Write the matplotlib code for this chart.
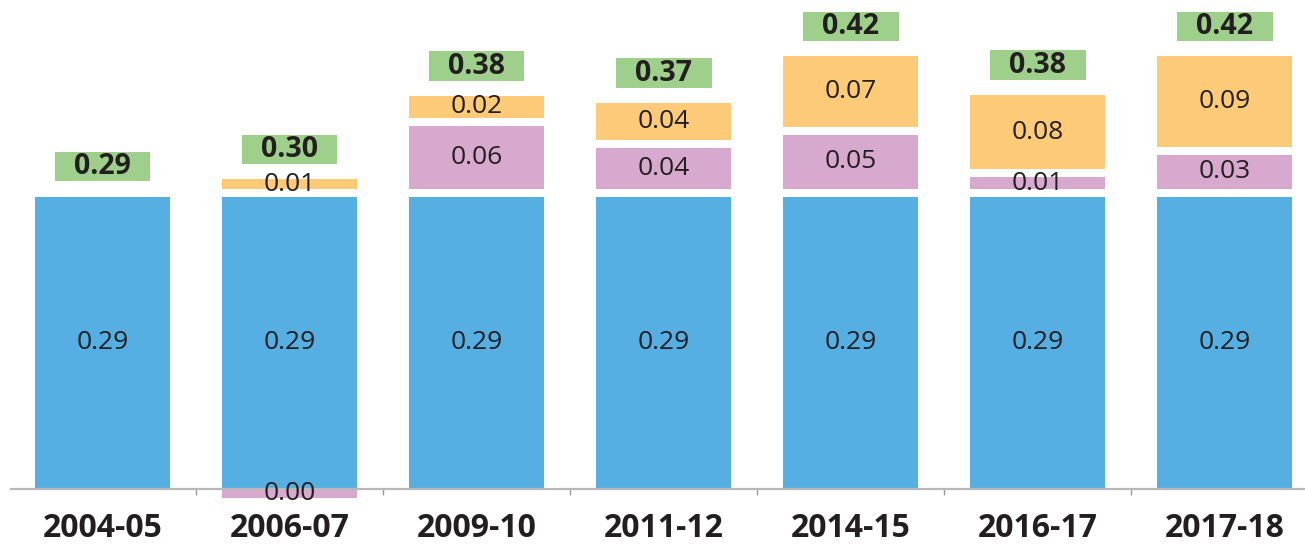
import matplotlib.pyplot as plt
import numpy as np

plt.rcParams['font.family'] = ['Open Sans', 'DejaVu Sans']

years = ['2004-05', '2006-07', '2009-10', '2011-12', '2014-15', '2016-17', '2017-18']
base = [0.29, 0.29, 0.29, 0.29, 0.29, 0.29, 0.29]
pink = [0.0, -0.009, 0.062, 0.040, 0.053, 0.011, 0.033]
orange = [0.0, 0.009, 0.022, 0.037, 0.070, 0.074, 0.090]

base_labels = ['0.29', '0.29', '0.29', '0.29', '0.29', '0.29', '0.29']
pink_labels = ['', '0.00', '0.06', '0.04', '0.05', '0.01', '0.03']
orange_labels = ['', '0.01', '0.02', '0.04', '0.07', '0.08', '0.09']
total_labels = ['0.29', '0.30', '0.38', '0.37', '0.42', '0.38', '0.42']

BLUE = '#55afe2'
PINK = '#d8a9ce'
ORANGE = '#fdca78'
GREEN = '#9fd08b'
TEXT = '#231f20'

GAP = 0.008       # white gap between stacked pieces
BOX_OFF = 0.015   # space between stack top and total box
BOX_H = 0.029
BAR_W = 0.72

fig = plt.figure(figsize=(13.05, 5.46), dpi=100)
ax = fig.add_axes([0, 0, 1, 1])

x = np.arange(len(years))

for i in range(len(years)):
    # blue base
    ax.bar(x[i], base[i], width=BAR_W, color=BLUE, zorder=1)
    ax.text(x[i], base[i] / 2, base_labels[i], ha='center', va='center',
            fontsize=19, color=TEXT, zorder=3)
    top = base[i]

    # pink piece (can go below zero)
    if pink[i] < 0:
        ax.bar(x[i], pink[i], width=BAR_W, color=PINK, zorder=1)
        ax.text(x[i], pink[i] / 2, pink_labels[i], ha='center', va='center',
                fontsize=19, color=TEXT, zorder=3)
    elif pink[i] > 0:
        bottom = top + GAP
        ax.bar(x[i], pink[i], bottom=bottom, width=BAR_W, color=PINK, zorder=1)
        ax.text(x[i], bottom + pink[i] / 2, pink_labels[i], ha='center', va='center',
                fontsize=19, color=TEXT, zorder=3)
        top = bottom + pink[i]

    # orange piece
    if orange[i] > 0:
        bottom = top + GAP
        ax.bar(x[i], orange[i], bottom=bottom, width=BAR_W, color=ORANGE, zorder=1)
        ax.text(x[i], bottom + orange[i] / 2, orange_labels[i], ha='center', va='center',
                fontsize=19, color=TEXT, zorder=3)
        top = bottom + orange[i]

    # green total box
    ax.bar(x[i], BOX_H, bottom=top + BOX_OFF, width=0.513, color=GREEN, zorder=1)
    ax.text(x[i], top + BOX_OFF + BOX_H / 2, total_labels[i], ha='center', va='center',
            fontsize=20.5, fontweight='bold', color=TEXT, zorder=3)

ax.set_xlim(-0.548, 6.43)
ax.set_ylim(-0.0565, 0.485)

for side in ['top', 'right', 'left']:
    ax.spines[side].set_visible(False)
ax.spines['bottom'].set_position(('data', 0))
ax.spines['bottom'].set_bounds(-0.489, 6.43)
ax.spines['bottom'].set_color('#b8b8b8')
ax.spines['bottom'].set_linewidth(1.6)
ax.spines['bottom'].set_zorder(2)

ax.set_yticks([])
ax.set_xticks(x)
ax.set_xticklabels(years, fontsize=23, fontweight='bold', color=TEXT)
ax.set_xticks(np.arange(0.5, len(years) - 1, 1), minor=True)
ax.tick_params(axis='x', which='major', length=0, pad=16.5)
ax.tick_params(axis='x', which='minor', length=4.5, width=1, color='#9a9a9a', direction='out')

ax.patch.set_visible(False)
fig.savefig('out.png', dpi=100)
